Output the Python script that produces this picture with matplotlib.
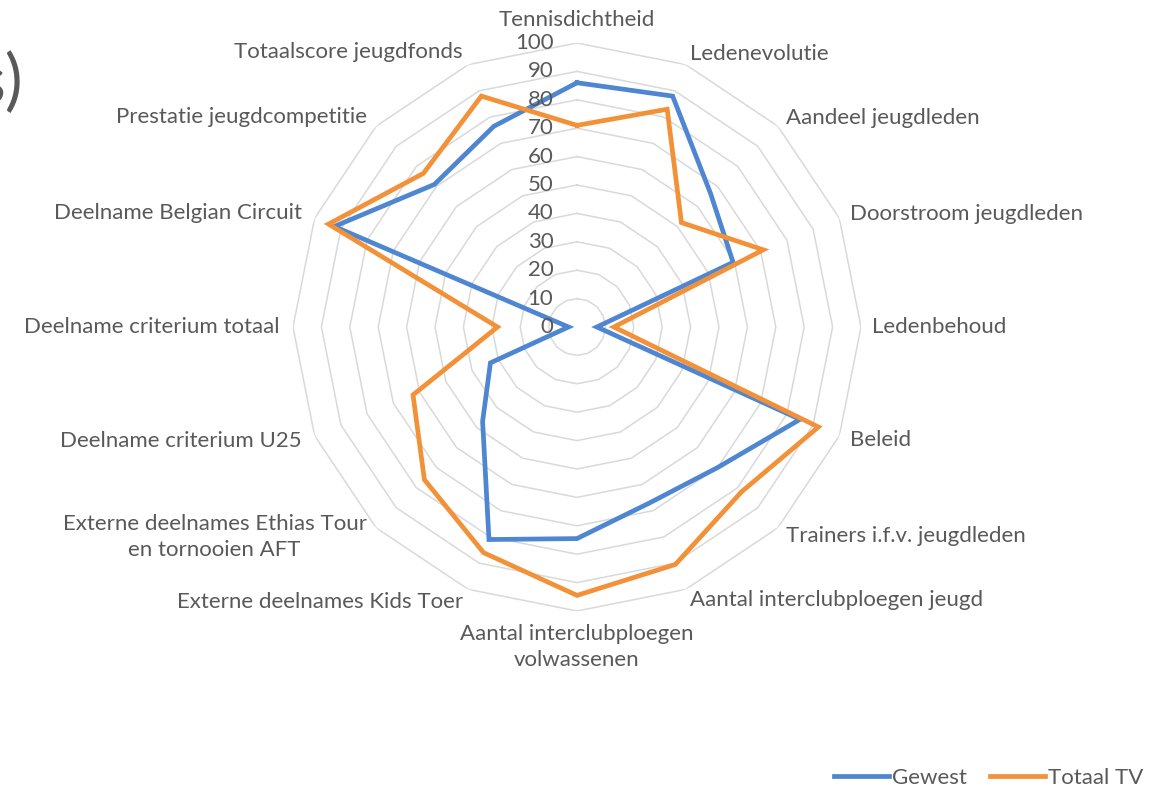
# -*- coding: utf-8 -*-

import numpy as np
import matplotlib
matplotlib.use('Agg')
import matplotlib.pyplot as plt

plt.rcParams['font.family'] = ['Lato', 'DejaVu Sans']

# Data
categories = ['Tennisdichtheid', 'Ledenevolutie', 'Aandeel jeugdleden',
              'Doorstroom jeugdleden', 'Ledenbehoud', 'Beleid',
              'Trainers i.f.v. jeugdleden', 'Aantal interclubploegen jeugd',
              'Aantal interclubploegen\nvolwassenen',
              'Externe deelnames Kids Toer',
              'Externe deelnames Ethias Tour\nen tornooien AFT',
              'Deelname criterium U25', 'Deelname criterium totaal',
              'Deelname Belgian Circuit', 'Prestatie jeugdcompetitie',
              'Totaalscore jeugdfonds']
gewest = [86, 88, 66.5, 59.5, 7, 85, 70, 67, 74.5, 81, 47, 33, 3, 92.5, 71, 76.5]
totaal_tv = [71, 83, 52, 71, 13, 92, 82, 90.5, 94.5, 86, 76, 62.5, 28, 94.7, 76.5, 88]
series_names = ['Gewest', 'Totaal TV']
levels = list(range(0, 101, 10))

BLUE = '#4F86D2'
ORANGE = '#F39138'
GRID = '#D9D9D9'
TXT = '#595959'
FS = 16

W, H = 1170, 788
fig = plt.figure(figsize=(W / 100, H / 100), dpi=100)

# centre (577, 327) px, radius 284 px
cx, cy, rad = 577, 327, 284
ax = fig.add_axes([(cx - rad) / W, (H - cy - rad) / H, 2 * rad / W, 2 * rad / H],
                  projection='polar')
ax.set_theta_zero_location('N')
ax.set_theta_direction(-1)
ax.set_ylim(0, 100)
ax.grid(False)
ax.spines['polar'].set_visible(False)
ax.set_xticks([])
ax.set_yticks([])
ax.patch.set_alpha(0)

n = len(categories)
theta = np.linspace(0, 2 * np.pi, n, endpoint=False)
theta_c = np.append(theta, theta[0])

# polygon gridlines
for lv in levels[1:]:
    ax.plot(theta_c, [lv] * (n + 1), color=GRID, lw=1.1, zorder=1)

# series
for vals, col, name in [(gewest, BLUE, series_names[0]),
                        (totaal_tv, ORANGE, series_names[1])]:
    ax.plot(theta_c, list(vals) + [vals[0]], color=col, lw=3.4,
            solid_joinstyle='miter', label=name, zorder=3)

# radial tick labels
for lv in levels:
    ax.annotate(str(lv), xy=(0, lv), xytext=(-17, 0), textcoords='offset points',
                ha='right', va='center', fontsize=FS, color=TXT, zorder=4)

# category labels
for t, lab in zip(theta, categories):
    deg = np.degrees(t)
    if deg < 1 or deg > 359:
        ha, va, r = 'center', 'bottom', 104.5
    elif abs(deg - 180) < 1:
        ha, va, r = 'center', 'top', 104.5
    elif deg < 180:
        ha, va, r = 'left', 'center', 104
    else:
        ha, va, r = 'right', 'center', 104.8
    ax.text(t, r, lab, ha=ha, va=va, fontsize=FS, color=TXT,
            multialignment='center', linespacing=1.38)

# cropped title remainder at the left edge
fig.text(23 / W, 1 - 84 / H, 's)', ha='right', va='center', fontsize=48,
         color=TXT)

fig.legend(loc='center right', bbox_to_anchor=(1143 / W, 1 - 778 / H), ncol=2,
           frameon=False, fontsize=FS, handlelength=2.5, handletextpad=0.1,
           columnspacing=1.05, labelcolor=TXT, borderaxespad=0, borderpad=0)

fig.savefig('out.png', dpi=100)
